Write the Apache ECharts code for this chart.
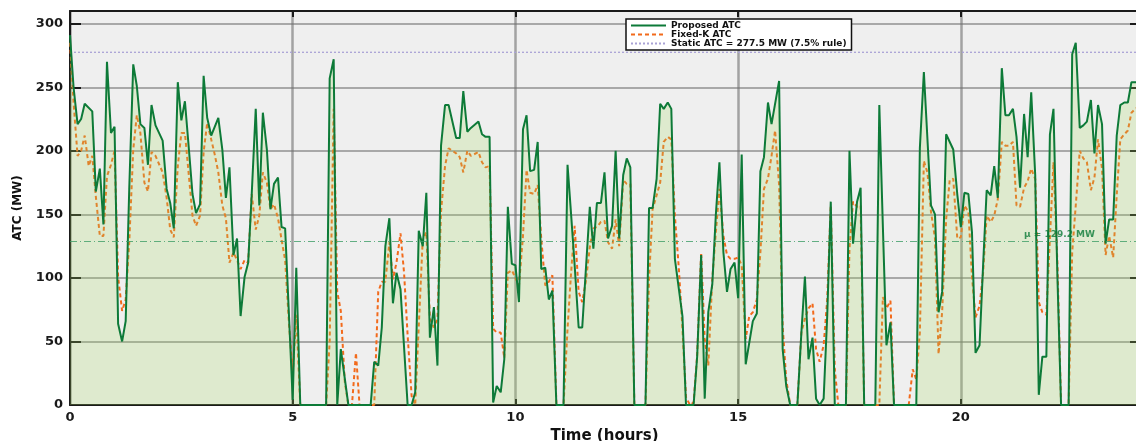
<!DOCTYPE html>
<html>
<head>
<meta charset="utf-8">
<script src="https://cdn.jsdelivr.net/npm/echarts@6/dist/echarts.min.js"></script>
<style>
html,body{margin:0;padding:0;background:#fff;overflow:hidden;}
#chart{width:1136px;height:441px;}
</style>
</head>
<body>
<div id="chart"></div>
<script>
// ---- data (time in hours, ATC in MW) ----
const proposedTimes = [0,0.08,0.17,0.25,0.33,0.5,0.58,0.67,0.75,0.83,0.92,1.0,1.08,1.17,1.25,1.33,1.42,1.5,1.58,1.67,1.75,1.83,1.92,2.08,2.17,2.25,2.33,2.42,2.5,2.58,2.67,2.75,2.83,2.92,3.0,3.08,3.17,3.33,3.42,3.5,3.58,3.67,3.75,3.83,3.92,4.0,4.08,4.17,4.25,4.33,4.42,4.5,4.58,4.67,4.75,4.83,5.0,5.08,5.17,5.75,5.83,5.92,6.0,6.08,6.25,6.75,6.83,6.92,7.0,7.08,7.17,7.25,7.33,7.42,7.58,7.67,7.75,7.83,7.92,8.0,8.08,8.17,8.25,8.33,8.42,8.5,8.67,8.75,8.83,8.92,9.0,9.17,9.25,9.33,9.42,9.5,9.58,9.67,9.75,9.83,9.92,10.0,10.08,10.17,10.25,10.33,10.42,10.5,10.58,10.67,10.75,10.83,10.92,11.08,11.17,11.25,11.33,11.42,11.5,11.67,11.75,11.83,11.92,12.0,12.08,12.17,12.25,12.33,12.42,12.5,12.58,12.67,12.92,13.0,13.08,13.17,13.25,13.33,13.42,13.5,13.58,13.75,13.83,14.0,14.08,14.17,14.25,14.33,14.42,14.5,14.58,14.67,14.75,14.83,14.92,15.0,15.08,15.17,15.25,15.33,15.42,15.5,15.58,15.67,15.75,15.92,16.0,16.08,16.17,16.33,16.42,16.5,16.58,16.67,16.75,16.83,16.92,17.0,17.08,17.17,17.42,17.5,17.58,17.67,17.75,17.83,18.08,18.17,18.25,18.33,18.42,18.5,19.0,19.08,19.17,19.33,19.42,19.5,19.58,19.67,19.83,19.92,20.0,20.08,20.17,20.25,20.33,20.42,20.5,20.58,20.67,20.75,20.83,20.92,21.0,21.08,21.17,21.25,21.33,21.42,21.5,21.58,21.67,21.75,21.83,21.92,22.0,22.08,22.17,22.25,22.42,22.5,22.58,22.67,22.75,22.83,22.92,23.0,23.08,23.17,23.25,23.33,23.42,23.5,23.58,23.67,23.75,23.83,23.92,24];
const proposedValues = [291,250,221,225,237,231,168,186,142,270,214,219,64,50,66,170,268,251,221,218,189,236,220,208,170,159,139,254,224,239,201,166,151,158,259,226,212,226,201,163,187,118,131,70,101,112,166,233,157,230,201,154,174,179,140,139,4,108,0,0,257,272,0,44,0,0,34,31,61,125,147,80,104,91,0,0,10,137,125,167,53,77,31,204,236,236,210,210,247,215,218,223,213,211,211,2,15,10,36,156,111,110,81,217,228,184,185,207,107,108,83,90,0,0,189,150,110,61,61,156,123,159,159,183,131,141,200,131,181,194,187,0,0,155,155,178,237,233,238,233,115,70,0,0,38,118,5,73,95,150,191,120,89,107,112,84,197,32,49,66,72,184,195,238,221,255,44,15,0,0,57,101,36,53,5,0,5,70,160,0,0,200,127,160,171,0,0,236,140,47,65,0,0,202,262,157,150,73,89,213,201,166,140,167,166,136,41,47,110,169,165,188,163,265,228,228,233,211,171,229,195,246,181,8,38,38,213,233,99,0,0,276,285,218,220,223,240,198,236,221,127,146,146,212,236,238,238,254,254,254];

const fixedTimes = [0,0.08,0.17,0.25,0.33,0.42,0.5,0.58,0.67,0.75,0.83,0.92,1.0,1.08,1.17,1.25,1.33,1.42,1.5,1.58,1.67,1.75,1.83,1.92,2.08,2.17,2.25,2.33,2.42,2.5,2.58,2.67,2.75,2.83,2.92,3.0,3.08,3.17,3.25,3.33,3.42,3.5,3.58,3.67,3.75,3.83,3.92,4.0,4.08,4.17,4.25,4.33,4.42,4.5,4.58,4.67,4.75,4.83,4.92,5.0,5.08,5.17,5.75,5.83,5.92,6.0,6.08,6.17,6.25,6.33,6.42,6.5,6.83,6.92,7.0,7.08,7.17,7.25,7.33,7.42,7.5,7.58,7.67,7.75,7.83,7.92,8.0,8.08,8.17,8.25,8.33,8.42,8.5,8.67,8.75,8.83,8.92,9.0,9.17,9.25,9.33,9.42,9.5,9.58,9.67,9.75,9.83,9.92,10.0,10.08,10.17,10.25,10.33,10.42,10.5,10.58,10.67,10.75,10.83,10.92,11.08,11.17,11.25,11.33,11.42,11.5,11.58,11.67,11.75,11.83,11.92,12.0,12.08,12.17,12.25,12.33,12.42,12.5,12.58,12.67,12.92,13.0,13.08,13.17,13.25,13.33,13.42,13.5,13.58,13.67,13.75,13.83,13.92,14.0,14.08,14.17,14.25,14.33,14.42,14.5,14.58,14.67,14.75,14.83,14.92,15.0,15.08,15.17,15.25,15.33,15.42,15.5,15.58,15.67,15.75,15.83,15.92,16.0,16.08,16.17,16.33,16.42,16.5,16.58,16.67,16.75,16.83,16.92,17.0,17.08,17.17,17.25,17.42,17.5,17.58,17.67,17.75,17.83,18.17,18.25,18.33,18.42,18.5,18.83,18.92,19.0,19.08,19.17,19.25,19.33,19.42,19.5,19.58,19.67,19.75,19.83,19.92,20.0,20.08,20.17,20.25,20.33,20.42,20.5,20.58,20.67,20.75,20.83,20.92,21.0,21.08,21.17,21.25,21.33,21.42,21.5,21.58,21.67,21.75,21.83,21.92,22.0,22.08,22.17,22.25,22.42,22.5,22.58,22.67,22.75,22.83,22.92,23.0,23.08,23.17,23.25,23.33,23.42,23.5,23.58,23.67,23.75,23.83,23.92,24];
const fixedValues = [285,238,196,200,212,188,196,164,133,133,180,189,200,101,74,83,128,201,228,214,175,168,199,196,183,163,138,132,188,214,214,180,149,141,149,199,222,209,197,183,157,147,112,120,114,107,114,112,166,138,149,183,175,154,158,147,130,114,62,25,71,0,0,50,233,89,74,18,0,0,41,0,0,89,97,97,128,99,112,135,104,55,7,0,62,131,136,68,61,68,152,188,202,198,195,183,200,196,199,191,187,188,60,57,57,37,104,106,100,94,133,185,167,166,173,131,94,97,102,0,0,60,104,141,89,81,97,124,139,140,144,145,128,123,146,125,177,174,174,0,0,99,154,165,175,207,211,209,149,107,60,6,0,2,39,120,52,31,99,136,170,133,118,115,115,116,110,52,70,73,83,120,170,178,196,216,173,62,20,0,0,57,68,76,80,44,34,47,83,157,28,0,0,123,160,156,157,0,0,85,76,82,0,0,28,20,57,192,183,152,131,40,73,146,177,178,131,132,157,152,101,69,78,104,149,144,149,162,207,204,204,207,157,156,171,176,186,178,81,73,71,131,191,110,0,0,120,157,200,194,191,169,179,209,186,118,133,116,165,209,213,216,230,233,235];

const staticATC = 277.5;
const meanATC = 129.2;
const xTicks = [0, 5, 10, 15, 20];
const yTicks = [0, 50, 100, 150, 200, 250, 300];
const seriesNames = ['Proposed ATC', 'Fixed-K ATC', 'Static ATC = 277.5 MW (7.5% rule)'];

const pair = (ts, vs) => ts.map((t, i) => [t, vs[i]]);

const FONT = 'DejaVu Sans';
const chart = echarts.init(document.getElementById('chart'), null, {renderer: 'canvas'});

const axisBase = {
  type: 'value',
  axisLine: {show: true, onZero: false, lineStyle: {color: '#1a1a1a', width: 2}},
  axisTick: {show: true, inside: true, lineStyle: {color: '#1a1a1a', width: 2}},
};

chart.setOption({
  animation: false,
  backgroundColor: '#ffffff',
  grid: {left: 70, right: -3, top: 11, bottom: 36, show: true, backgroundColor: '#efefef', borderWidth: 0,
    containLabel: false, outerBoundsMode: 'none'},
  legend: {
    data: seriesNames,
    orient: 'vertical',
    left: 626, top: 19,
    padding: [2, 5, 2, 4],
    itemGap: 0,
    itemWidth: 35, itemHeight: 8,
    backgroundColor: '#ffffff',
    borderColor: '#111', borderWidth: 1.5,
    itemStyle: {opacity: 0},
    textStyle: {fontFamily: FONT, fontWeight: 'bold', fontSize: 9, color: '#111', lineHeight: 8.5},
  },
  xAxis: [
    Object.assign({}, axisBase, {
      position: 'bottom', min: 0, max: 24, interval: 5,
      name: 'Time (hours)', nameLocation: 'middle', nameGap: 22,
      nameTextStyle: {fontFamily: FONT, fontWeight: 'bold', fontSize: 15, color: '#111'},
      axisTick: {show: true, inside: true, length: 6, lineStyle: {color: '#1a1a1a', width: 2}},
      axisLabel: {fontFamily: FONT, fontWeight: 'bold', fontSize: 13, color: '#1a1a1a', margin: 6,
        showMaxLabel: false, formatter: v => xTicks.includes(v) ? String(v) : ''},
      splitLine: {show: true, lineStyle: {color: 'rgba(110,110,110,0.6)', width: 2.5}},
    }),
    Object.assign({}, axisBase, {
      position: 'top', min: 0, max: 24, interval: 5,
      axisTick: {show: true, inside: true, length: 6, lineStyle: {color: '#1a1a1a', width: 2}},
      axisLabel: {show: false}, splitLine: {show: false},
    }),
  ],
  yAxis: [
    Object.assign({}, axisBase, {
      position: 'left', min: 0, max: 310, interval: 50,
      name: 'ATC (MW)', nameLocation: 'middle', nameGap: 46, nameRotate: 90,
      nameTextStyle: {fontFamily: FONT, fontWeight: 'bold', fontSize: 12, color: '#111'},
      axisTick: {show: true, inside: true, length: 11, lineStyle: {color: '#1a1a1a', width: 2}},
      axisLabel: {fontFamily: FONT, fontWeight: 'bold', fontSize: 13, color: '#1a1a1a', margin: 7,
        showMaxLabel: false, formatter: v => yTicks.includes(v) ? String(v) : ''},
      splitLine: {show: true, lineStyle: {color: 'rgba(110,110,110,0.55)', width: 2}},
    }),
    Object.assign({}, axisBase, {
      position: 'right', min: 0, max: 310, interval: 50,
      axisTick: {show: true, inside: true, length: 9, lineStyle: {color: '#1a1a1a', width: 2}},
      axisLabel: {show: false}, splitLine: {show: false},
    }),
  ],
  series: [
    {
      name: seriesNames[0], type: 'line', xAxisIndex: 0, yAxisIndex: 0,
      data: pair(proposedTimes, proposedValues),
      symbol: 'none', z: 4,
      lineStyle: {color: '#0d7a38', width: 2},
      itemStyle: {color: '#3fa860'},
      areaStyle: {color: 'rgba(168,216,100,0.34)'},
      markLine: {
        silent: true, symbol: 'none',
        lineStyle: {color: '#3f9e68', width: 1, opacity: 0.8, type: [7, 3, 1, 3]},
        label: {show: true, position: 'insideEndTop', formatter: 'μ = ' + meanATC + ' MW',
          fontFamily: FONT, fontWeight: 'bold', fontSize: 9, color: '#0d7a38', padding: [0, 42, 0, 0], distance: 2},
        data: [{yAxis: meanATC}],
      },
    },
    {
      name: seriesNames[1], type: 'line', xAxisIndex: 0, yAxisIndex: 0,
      data: pair(fixedTimes, fixedValues),
      symbol: 'none', z: 3,
      lineStyle: {color: '#f26a1b', width: 2, type: [4, 3]},
      itemStyle: {color: '#f26a1b'},
    },
    {
      name: seriesNames[2], type: 'line', xAxisIndex: 0, yAxisIndex: 0,
      data: [[0, staticATC], [24, staticATC]],
      symbol: 'none', z: 2,
      lineStyle: {color: '#aaa3d6', width: 1.3, type: [2, 2]},
      itemStyle: {color: '#aaa3d6'},
    },
  ],
});
</script>
</body>
</html>
